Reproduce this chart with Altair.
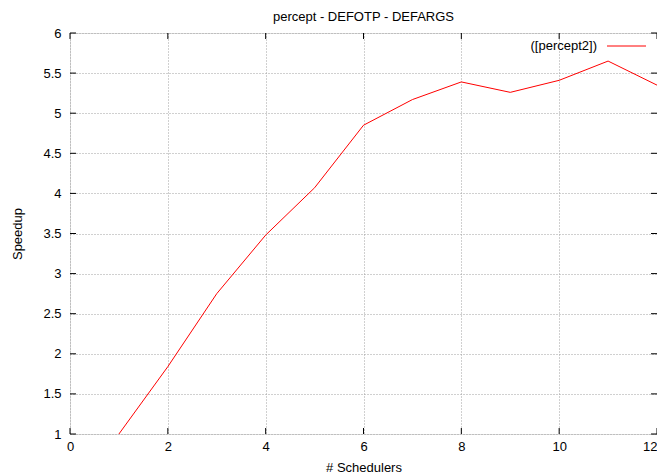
import altair as alt
import pandas as pd

# ---- data ----
schedulers = [1, 2, 3, 4, 5, 6, 7, 8, 9, 10, 11, 12]
speedup = [1.0, 1.84, 2.75, 3.48, 4.07, 4.85, 5.17, 5.39, 5.26, 5.41, 5.65, 5.35]
x_ticks = [0, 2, 4, 6, 8, 10, 12]
y_ticks = [1, 1.5, 2, 2.5, 3, 3.5, 4, 4.5, 5, 5.5, 6]
series_name = "([percept2])"
chart_title = "percept - DEFOTP - DEFARGS"
x_title = "# Schedulers"
y_title = "Speedup"

W, H = 587, 401
FONT = "Liberation Sans"
FS = 13
TICK = 6

df = pd.DataFrame({"x": schedulers, "y": speedup})
xt = pd.DataFrame({"t": x_ticks})
yt = pd.DataFrame({"t": y_ticks})
leg = pd.DataFrame({"name": [series_name]})

xs = alt.Scale(domain=[0, 12], nice=False, zero=False)
ys = alt.Scale(domain=[1, 6], nice=False, zero=False)

x_axis = alt.Axis(values=x_ticks, title=x_title, grid=True, gridDash=[1, 2],
                  gridColor="#a0a0a0", gridOpacity=1, tickSize=0, domain=False,
                  labelPadding=6, titlePadding=8, labelFont=FONT, titleFont=FONT,
                  labelFontSize=FS, titleFontSize=FS, titleFontWeight="normal",
                  labelColor="black", titleColor="black", labelFlush=False,
                  labelAlign={"condition": {"test": "datum.value == 12", "value": "right"},
                              "value": "center"})
y_axis = alt.Axis(values=y_ticks, title=y_title, grid=True, gridDash=[1, 2],
                  gridColor="#a0a0a0", gridOpacity=1, tickSize=0, domain=False,
                  labelPadding=9, titlePadding=18, labelFont=FONT, titleFont=FONT,
                  labelFontSize=FS, titleFontSize=FS, titleFontWeight="normal",
                  labelColor="black", titleColor="black", format="~g", labelFlush=False)

line = alt.Chart(df).mark_line(color="#ff0000", strokeWidth=1).encode(
    x=alt.X("x:Q", scale=xs, axis=x_axis),
    y=alt.Y("y:Q", scale=ys, axis=y_axis),
)

tick_style = dict(color="black", strokeWidth=1)
bx = alt.Chart(xt).mark_rule(**tick_style).encode(
    x=alt.X("t:Q", scale=xs), y=alt.value(H), y2=alt.value(H - TICK))
tx = alt.Chart(xt).mark_rule(**tick_style).encode(
    x=alt.X("t:Q", scale=xs), y=alt.value(0), y2=alt.value(TICK))
ly = alt.Chart(yt).mark_rule(**tick_style).encode(
    y=alt.Y("t:Q", scale=ys), x=alt.value(0), x2=alt.value(TICK))
ry = alt.Chart(yt).mark_rule(**tick_style).encode(
    y=alt.Y("t:Q", scale=ys), x=alt.value(W), x2=alt.value(W - TICK))

leg_text = alt.Chart(leg).mark_text(align="right", baseline="middle", font=FONT,
                                    fontSize=FS, color="black").encode(
    text="name:N", x=alt.value(527), y=alt.value(13))
leg_line = alt.Chart(leg).mark_rule(color="#ff0000", strokeWidth=1).encode(
    x=alt.value(537), x2=alt.value(576), y=alt.value(13))

chart = alt.layer(line, bx, tx, ly, ry, leg_text, leg_line).properties(
    width=W, height=H,
    title=alt.TitleParams(chart_title, font=FONT, fontSize=FS, fontWeight="normal",
                          color="black", offset=3),
    autosize=alt.AutoSizeParams(type="none"),
    padding={"left": 62, "top": 25, "right": 0, "bottom": 40},
).configure_view(stroke="black", strokeWidth=1).configure(background="white")

chart.save("out.html", embed_options={"renderer": "svg", "actions": False})
